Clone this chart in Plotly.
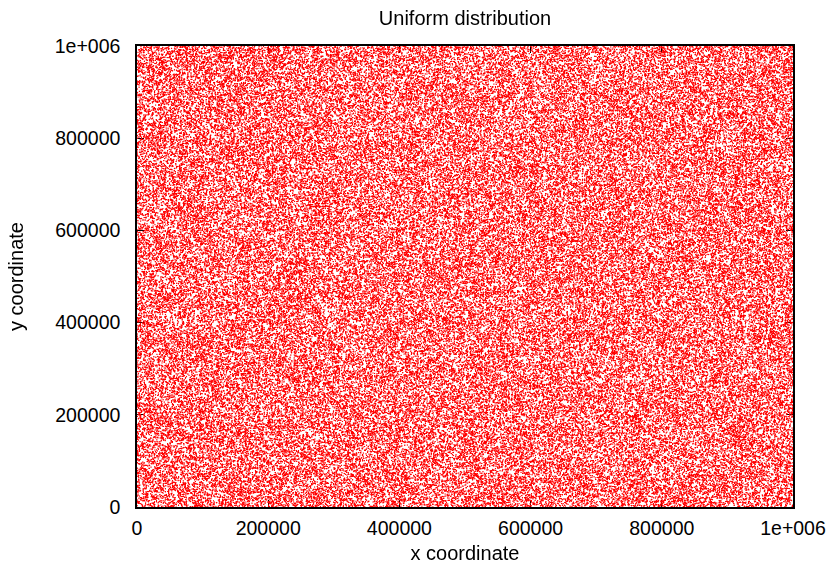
import numpy as np
import plotly.graph_objects as go

# Extent of the sampled square and number of sample points
x_range = [0, 1000000]
y_range = [0, 1000000]
n_points = 135000

# Axis tick positions and labels (gnuplot-style exponent notation)
tick_vals = [0, 200000, 400000, 600000, 800000, 1000000]
tick_text = ["0", "200000", "400000", "600000", "800000", "1e+006"]

# Uniformly distributed points over the square (fixed seed for reproducibility)
rng = np.random.default_rng(12345)
xs = rng.uniform(x_range[0], x_range[1], n_points)
ys = rng.uniform(y_range[0], y_range[1], n_points)

fig = go.Figure(
    go.Scattergl(
        x=xs,
        y=ys,
        mode="markers",
        marker=dict(color="#ff0000", size=1.6, line=dict(width=0)),
        hoverinfo="skip",
        showlegend=False,
    )
)

font = "Liberation Sans, Arial, sans-serif"
axis_common = dict(
    tickvals=tick_vals,
    ticktext=tick_text,
    ticks="inside",
    ticklen=7,
    tickwidth=1,
    tickcolor="black",
    showline=True,
    linecolor="black",
    linewidth=1.5,
    mirror="allticks",
    showgrid=False,
    zeroline=False,
    automargin=False,
    tickfont=dict(family=font, size=19.5, color="black"),
)

fig.update_layout(
    width=834,
    height=571,
    margin=dict(l=137, r=41, t=46, b=64),
    paper_bgcolor="white",
    plot_bgcolor="white",
    title=dict(
        text="Uniform distribution",
        x=0.5 * (137 + 793) / 834,
        xanchor="center",
        y=1 - 18 / 571,
        yanchor="middle",
        font=dict(family=font, size=20, color="black"),
    ),
    xaxis=dict(
        range=x_range,
        ticklabelstandoff=3,
        title=dict(text="x coordinate", font=dict(family=font, size=20, color="black"), standoff=8),
        **axis_common,
    ),
    yaxis=dict(
        range=y_range,
        ticklabelstandoff=11,
        title=dict(text="y coordinate", font=dict(family=font, size=20, color="black"), standoff=26),
        **axis_common,
    ),
)

fig.write_html("out.html")
